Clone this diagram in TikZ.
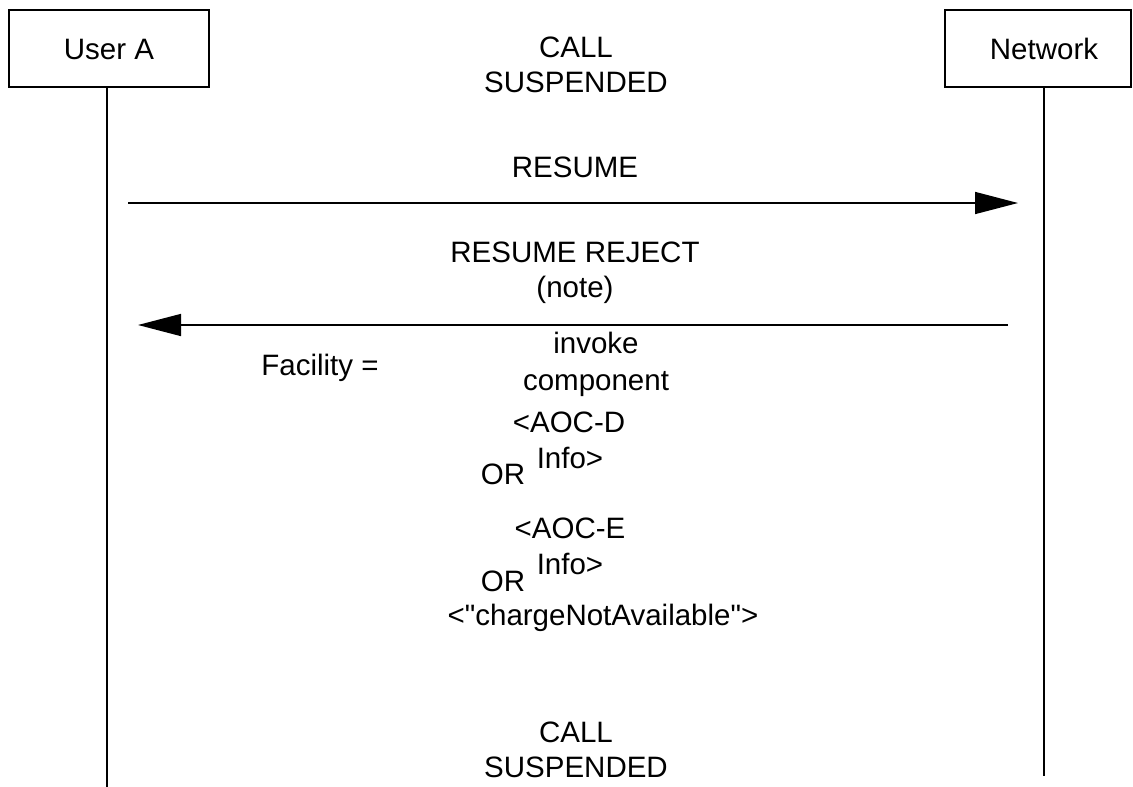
\documentclass[tikz,border=0pt]{standalone}
\usepackage{fontspec}
\setmainfont{Liberation Sans}[Ligatures=TeXOff]
\usetikzlibrary{arrows.meta}
\begin{document}
\begin{tikzpicture}[x=1pt,y=-1pt,
  txt/.style={font=\fontsize{29.5}{35}\selectfont, inner sep=0pt, anchor=base, align=center},
  ent/.style={draw, line width=1.5pt, minimum width=200pt, minimum height=77pt, inner sep=0pt},
  life/.style={line width=1.5pt},
  msg/.style={line width=1.5pt, -{Triangle[length=43pt,width=22pt]}}]
\useasboundingbox (0,0) rectangle (1133,787);
% entities
\node[ent] (ua) at (109,48.5) {};
\node[txt] (uat) at (109,59) {User A};
\node[ent, minimum width=186pt] (nw) at (1038,48.5) {};
\node[txt] (nwt) at (1044,59) {Network};
% lifelines
\coordinate (uatop) at (107,87);
\coordinate (uabot) at (107,787);
\coordinate (nwtop) at (1044,87);
\coordinate (nwbot) at (1044,776);
\draw[life] (uatop) -- (uabot);
\draw[life] (nwtop) -- (nwbot);
% state labels (base anchor = last line baseline)
\node[txt] (s1) at (576,92) {CALL\\SUSPENDED};
\node[txt] (s2) at (576,777) {CALL\\SUSPENDED};
% messages
\node[txt] (m1) at (575,177) {RESUME};
\coordinate (m1a) at (128,203);
\coordinate (m1b) at (1018,203);
\draw[msg] (m1a) -- (m1b);
\node[txt] (m2) at (575,297) {RESUME REJECT\\(note)};
\coordinate (m2a) at (1008,325);
\coordinate (m2b) at (138,325);
\draw[msg] (m2a) -- (m2b);
% facility contents
\node[txt] (fac) at (320,375) {Facility =};
\node[txt, font=\fontsize{29.5}{37}\selectfont] (inv) at (596,390) {invoke\\component};
\node[txt] (aocd) at (569,432) {<AOC-D};
\node[txt] (infod) at (570,468) {Info>};
\node[txt] (or1) at (503,484) {OR};
\node[txt] (aoce) at (570,538) {<AOC-E};
\node[txt] (infoe) at (570,574) {Info>};
\node[txt] (or2) at (503,591) {OR};
\node[txt] (cna) at (603,625) {<"chargeNotAvailable">};
\end{tikzpicture}
\end{document}
